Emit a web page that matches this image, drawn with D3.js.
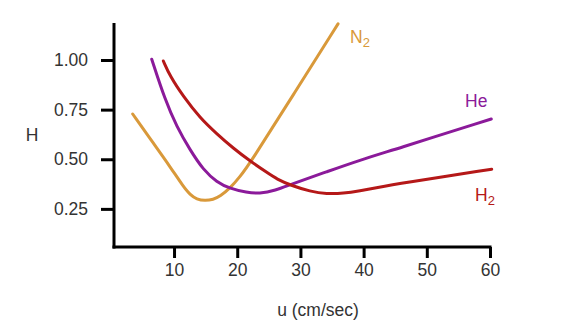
<!DOCTYPE html>
<html><head><meta charset="utf-8">
<script src="https://cdn.jsdelivr.net/npm/d3@7"></script>
<style>body{margin:0;background:#fff;}svg{display:block;}</style>
</head><body>
<svg id="c" width="577" height="325"></svg>
<script>
const n2U = [3.46, 6.72, 9.37, 11.47, 12.53, 13.6, 14.9, 16.2, 17.28, 18.86, 20.44, 22.03, 29.0, 35.95];
const n2H = [0.728, 0.581, 0.463, 0.362, 0.322, 0.298, 0.291, 0.297, 0.313, 0.354, 0.412, 0.480, 0.831, 1.182];
const heU = [6.47, 8.58, 10.43, 12.53, 14.64, 16.76, 18.86, 21.5, 23.5, 26.0, 28.6, 34.16, 39.43, 44.7, 60.2];
const heH = [1.004, 0.799, 0.664, 0.547, 0.446, 0.385, 0.352, 0.332, 0.327, 0.342, 0.375, 0.437, 0.496, 0.547, 0.703];
const h2U = [8.31, 9.37, 11.47, 14.11, 16.76, 19.38, 22.03, 24.67, 26.25, 28.62, 31.52, 34.16, 36.79, 39.43, 42.07, 45.75, 60.27];
const h2H = [0.995, 0.918, 0.816, 0.708, 0.628, 0.555, 0.491, 0.434, 0.400, 0.367, 0.338, 0.325, 0.328, 0.341, 0.357, 0.378, 0.450];
const xTicks = [10, 20, 30, 40, 50, 60];
const yTicks = [0.25, 0.50, 0.75, 1.00];
const yTickLabels = ["0.25", "0.50", "0.75", "1.00"];
const seriesNames = ["N2", "He", "H2"];
const seriesColors = ["#d9993a", "#8b1a9a", "#b51818"];

const svg = d3.select("#c");
const x = d3.scaleLinear().domain([0.5, 60]).range([114, 490]);
const y = d3.scaleLinear().domain([0, 1]).range([258.5, 60]);
const font = "Arial, 'Liberation Sans', sans-serif";
const fs = 17.5;

// axes
const ax = svg.append("g").attr("transform", "translate(0,247)")
  .call(d3.axisBottom(x).tickValues(xTicks).tickSize(11).tickPadding(6).tickFormat(d3.format("d")));
ax.select(".domain").attr("d", "M112.5,0H491.5").attr("stroke", "#000").attr("stroke-width", 3);
ax.selectAll(".tick line").attr("stroke", "#000").attr("stroke-width", 3);
ax.selectAll(".tick text").attr("font-family", font).attr("font-size", fs).attr("fill", "#333");

const ay = svg.append("g").attr("transform", "translate(114,0)")
  .call(d3.axisLeft(y).tickValues(yTicks).tickSize(13).tickPadding(13).tickFormat((d, i) => yTickLabels[i]));
ay.select(".domain").attr("d", "M0,23V248.5").attr("stroke", "#000").attr("stroke-width", 3);
ay.selectAll(".tick line").attr("stroke", "#000").attr("stroke-width", 3);
ay.selectAll(".tick text").attr("font-family", font).attr("font-size", fs).attr("fill", "#333");

svg.append("text").attr("x", 32).attr("y", 141).attr("text-anchor", "middle")
  .attr("font-family", font).attr("font-size", fs).attr("fill", "#333").text("H");
svg.append("text").attr("x", 318).attr("y", 316).attr("text-anchor", "middle")
  .attr("font-family", font).attr("font-size", fs).attr("fill", "#333").text("u (cm/sec)");

// curves
const line = d3.line().x(d => x(d[0])).y(d => y(d[1])).curve(d3.curveBasis);
const data = [d3.zip(n2U, n2H), d3.zip(heU, heH), d3.zip(h2U, h2H)];
data.forEach((pts, i) => {
  svg.append("path").attr("d", line(pts)).attr("fill", "none")
    .attr("stroke", seriesColors[i]).attr("stroke-width", 3).attr("stroke-linecap", "round");
});

// labels
function subLabel(px, py, base, sub, color) {
  const t = svg.append("text").attr("x", px).attr("y", py).attr("font-family", font)
    .attr("font-size", fs).attr("fill", color);
  t.append("tspan").text(base);
  if (sub) t.append("tspan").attr("dy", 4).attr("font-size", 13).text(sub);
}
subLabel(350, 43, "N", "2", seriesColors[0]);
subLabel(465, 107, "He", null, seriesColors[1]);
subLabel(475, 201, "H", "2", seriesColors[2]);
</script>
</body></html>
